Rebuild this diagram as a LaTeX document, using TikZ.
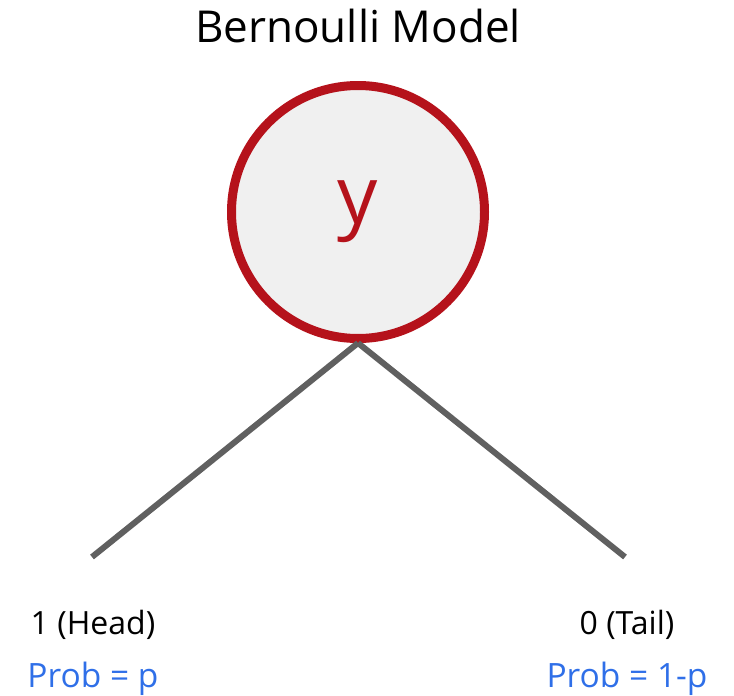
\documentclass[tikz,border=0pt]{standalone}
\usepackage{fontspec}
\setmainfont{Open Sans}
\usepackage{xcolor}
\usetikzlibrary{positioning}
\definecolor{bmred}{HTML}{B5121B}
\definecolor{bmfill}{HTML}{F0F0F0}
\definecolor{bmgray}{HTML}{606060}
\definecolor{bmblue}{HTML}{2F6FE8}

\begin{document}
\begin{tikzpicture}[
  x=1pt, y=-1pt,
  state/.style={circle, draw=bmred, fill=bmfill, line width=9pt,
    minimum size=253pt, inner sep=0pt, text=bmred, font=\fontsize{80}{80}\selectfont},
  branch/.style={draw=bmgray, line width=6pt},
  outcome/.style={font=\fontsize{32}{32}\selectfont, text=black},
  prob/.style={font=\fontsize{33.5}{33.5}\selectfont, text=bmblue},
]
  \useasboundingbox (0,0) rectangle (734,696);
  \node[font=\fontsize{44}{44}\selectfont] (title) at (358,26) {Bernoulli Model};
  \node[state] (y) at (358,212) {y};
  \coordinate (head) at (92,557);
  \coordinate (tail) at (625,557);
  \draw[branch] (y.south) -- (head);
  \draw[branch] (y.south) -- (tail);
  \node[outcome] (headlbl) at (93,625) {1 (Head)};
  \node[outcome] (taillbl) at (627,625) {0 (Tail)};
  \node[prob] (headprob) at (93,679) {Prob = p};
  \node[prob] (tailprob) at (627,679) {Prob = 1-p};
\end{tikzpicture}
\end{document}
